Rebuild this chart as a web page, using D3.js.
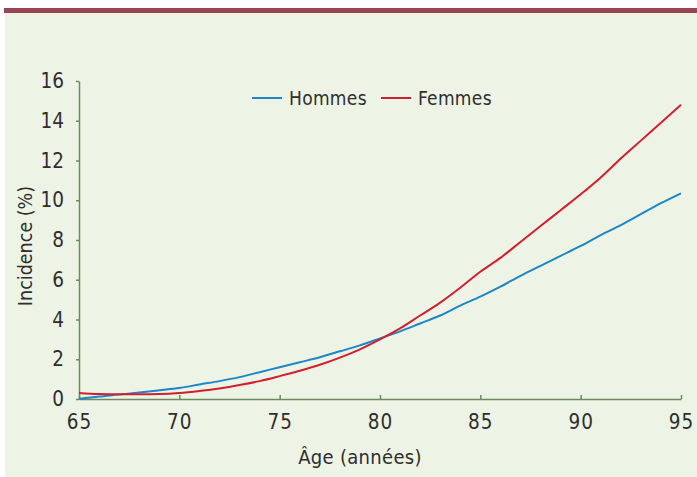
<!DOCTYPE html>
<html>
<head>
<meta charset="utf-8">
<script src="https://cdn.jsdelivr.net/npm/d3@7"></script>
<style>
  body { margin: 0; background: #ffffff; }
  svg { display: block; }
  .tick text { font-family: "Liberation Sans Narrow", "DejaVu Sans Condensed", sans-serif; font-size: 20.5px; fill: #2e2e2e; }
  .lbl { font-family: "DejaVu Sans Condensed", "Liberation Sans Narrow", sans-serif; fill: #2e2e2e; }
</style>
</head>
<body>
<div id="chart"></div>
<script>
// data
var ages = [65, 66, 67, 68, 69, 70, 71, 72, 73, 74, 75, 76, 77, 78, 79, 80,
            81, 82, 83, 84, 85, 86, 87, 88, 89, 90, 91, 92, 93, 94, 95];
var hommes = [0, 0.12, 0.22, 0.33, 0.44, 0.55, 0.73, 0.9, 1.1, 1.35, 1.6, 1.85, 2.1, 2.4, 2.7, 3.05,
              3.4, 3.8, 4.2, 4.7, 5.15, 5.65, 6.2, 6.7, 7.2, 7.7, 8.25, 8.75, 9.3, 9.85, 10.35];
var femmes = [0.3, 0.25, 0.24, 0.24, 0.25, 0.3, 0.4, 0.53, 0.7, 0.9, 1.15, 1.42, 1.72, 2.08, 2.5, 3.0,
              3.55, 4.2, 4.85, 5.6, 6.4, 7.1, 7.9, 8.7, 9.5, 10.3, 11.15, 12.1, 13.0, 13.9, 14.8];
var xTicks = [65, 70, 75, 80, 85, 90, 95];
var yTicks = [0, 2, 4, 6, 8, 10, 12, 14, 16];
var seriesNames = ["Hommes", "Femmes"];
var seriesColors = ["#1b87c9", "#d21f2f"];

var svg_width = 697;
var svg_height = 477;
var margin = { top: 81, right: 16, bottom: 78, left: 79 };
var width = svg_width - margin.left - margin.right;
var height = svg_height - margin.top - margin.bottom;

var svg = d3.select("#chart").append("svg")
  .attr("width", svg_width)
  .attr("height", svg_height);

// panel background + top bar
svg.append("rect").attr("x", 5).attr("y", 13).attr("width", svg_width - 5).attr("height", svg_height - 13)
  .attr("fill", "#eef4e5");
svg.append("rect").attr("x", 4).attr("y", 8).attr("width", svg_width - 4).attr("height", 5)
  .attr("fill", "#9a4351");

var chartGroup = svg.append("g")
  .attr("transform", `translate(${margin.left}, ${margin.top})`);

var x = d3.scaleLinear().domain([65, 95]).range([0, width]);
var y = d3.scaleLinear().domain([0, 16]).range([height, 0]);

var axisColor = "#6d8b61";

// x axis (ticks pointing up)
var xAxis = chartGroup.append("g")
  .attr("transform", `translate(0, ${height})`)
  .call(d3.axisBottom(x).tickValues(xTicks).tickSize(-4).tickPadding(15).tickSizeOuter(0));
xAxis.select(".domain").attr("stroke", axisColor).attr("stroke-width", 1.5);
xAxis.selectAll(".tick line").attr("stroke", axisColor).attr("stroke-width", 1.5);
xAxis.selectAll(".tick text").attr("dy", "0.71em").attr("letter-spacing", "1px");

// y axis
var yAxis = chartGroup.append("g")
  .call(d3.axisLeft(y).tickValues(yTicks).tickSize(3).tickPadding(12).tickSizeOuter(0));
yAxis.select(".domain").attr("stroke", axisColor).attr("stroke-width", 1.5);
yAxis.selectAll(".tick line").attr("stroke", axisColor).attr("stroke-width", 1.5);

// lines
var line = d3.line()
  .x((d, i) => x(ages[i]))
  .y(d => y(d))
  .curve(d3.curveMonotoneX);

[hommes, femmes].forEach(function(vals, k) {
  chartGroup.append("path")
    .datum(vals)
    .attr("fill", "none")
    .attr("stroke", seriesColors[k])
    .attr("stroke-width", 2)
    .attr("d", line);
});

// legend
var legendX = [252, 381];
seriesNames.forEach(function(name, k) {
  var g = svg.append("g").attr("transform", `translate(${legendX[k]}, 98)`);
  g.append("line").attr("x1", 0).attr("x2", 30).attr("y1", 0).attr("y2", 0)
    .attr("stroke", seriesColors[k]).attr("stroke-width", 2);
  g.append("text").attr("class", "lbl").attr("x", 37).attr("y", 7)
    .attr("font-size", 19).attr("letter-spacing", "0.3px").text(name);
});

// axis titles
svg.append("text").attr("class", "lbl")
  .attr("x", 360).attr("y", 464)
  .attr("text-anchor", "middle").attr("font-size", 20).attr("letter-spacing", "0.3px")
  .text("Âge (années)");

svg.append("text").attr("class", "lbl")
  .attr("transform", "rotate(-90)")
  .attr("x", -246).attr("y", 32)
  .attr("text-anchor", "middle").attr("font-size", 19.5)
  .text("Incidence (%)");
</script>
</body>
</html>
